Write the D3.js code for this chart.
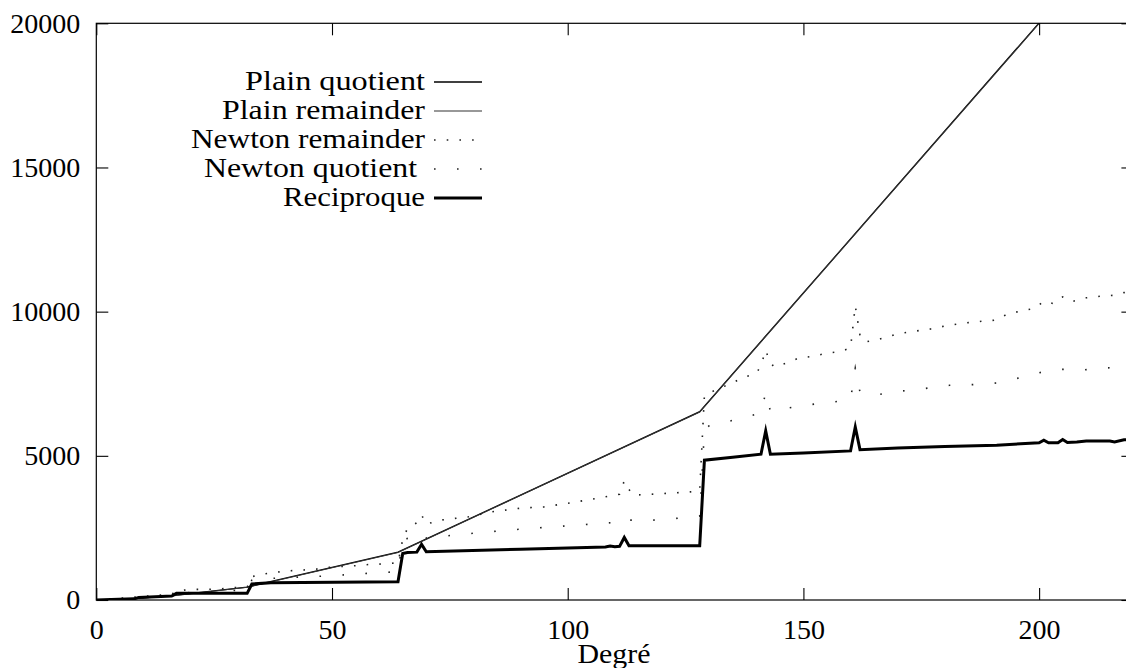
<!DOCTYPE html>
<html><head><meta charset="utf-8">
<script src="https://cdn.jsdelivr.net/npm/d3@7"></script>
<style>
body{margin:0;background:#fff;overflow:hidden}
</style></head><body>
<svg id="chart" width="1126" height="668"></svg>
<script>
// ---------- data ----------
const xTicks = [0, 50, 100, 150, 200];
const yTicks = [0, 5000, 10000, 15000, 20000];
const xLabel = "Degré";
const legendLabels = ["Plain quotient", "Plain remainder", "Newton remainder", "Newton quotient ", "Reciproque"];

const plainDeg       = [0, 8, 16, 32, 64, 128, 256];
const plainQuotient  = [0, 50, 150, 450, 1660, 6530, 30500];
const plainRemainder = [0, 45, 140, 440, 1650, 6520, 30480];

const newtonRemDeg = [0, 8, 16, 17, 20, 23, 26, 29, 32, 33, 35, 38, 41, 44, 47, 49, 55, 58, 60, 64,
  65, 66, 68, 69, 70, 73, 76, 79, 84, 90, 95, 101, 106, 111, 112, 113, 114, 120, 126, 128,
  129, 132, 135, 137, 140, 141, 142, 143, 144, 147, 149, 152, 155, 158, 160, 161, 162, 163, 166, 169,
  171, 174, 177, 180, 183, 185, 188, 191, 193, 196, 199, 201, 203, 205, 207, 210, 213, 216, 218, 220];
const newtonRemainder = [0, 100, 200, 311, 370, 370, 380, 427, 440, 808, 890, 958, 1015, 1040, 1075, 1130, 1190, 1235, 1245, 1290,
  2100, 2480, 2680, 2950, 2630, 2770, 2830, 2885, 3060, 3185, 3230, 3380, 3520, 3670, 4130, 3830, 3635, 3690, 3750, 3800,
  7100, 7330, 7530, 7710, 7850, 8140, 8660, 8200, 8080, 8250, 8390, 8450, 8560, 8620, 8750, 10200, 9180, 8945, 9040, 9180,
  9260, 9330, 9400, 9500, 9580, 9620, 9670, 9710, 9895, 10020, 10110, 10360, 10280, 10510, 10350, 10480, 10535, 10570, 10660, 10700];

const newtonQuoDeg = [0, 8, 16, 17, 21, 26, 31, 32, 33, 34, 40, 45, 50, 55, 60, 64,
  65, 68, 69, 70, 77, 87, 97, 107, 111, 112, 113, 118, 123, 128,
  129, 130, 135, 140, 141, 142, 143, 149, 154, 159, 160, 161, 162, 166,
  171, 176, 181, 186, 191, 196, 201, 205, 209, 214, 220];
const newtonQuotient = [0, 60, 150, 230, 266, 300, 346, 360, 690, 727, 772, 807, 842, 900, 946, 980,
  2100, 2200, 2330, 2150, 2270, 2420, 2540, 2655, 2700, 2830, 2770, 2770, 2830, 2910,
  5900, 6040, 6230, 6440, 6480, 7200, 6545, 6720, 6830, 6915, 6950, 8040, 7210, 7130,
  7250, 7340, 7445, 7470, 7525, 7710, 7920, 8000, 7975, 8045, 8100];

const recipDeg = [0, 8, 9, 16, 17, 32, 33, 37, 64, 65, 66, 68, 69, 70, 90, 108, 109, 110, 111, 112, 113, 128,
  129, 135, 141, 142, 143, 150, 160, 161, 162, 170, 180, 191, 200, 201, 202, 204, 205, 206, 208, 210, 215, 216, 218, 220];
const reciproque = [0, 40, 90, 140, 230, 230, 554, 600, 634, 1615, 1650, 1660, 1930, 1675, 1760, 1840, 1870, 1850, 1860, 2170, 1880, 1880,
  4850, 4950, 5055, 5865, 5055, 5100, 5170, 6000, 5215, 5275, 5320, 5370, 5450, 5540, 5450, 5450, 5565, 5460, 5480, 5510, 5510, 5480, 5560, 5560];

// ---------- layout ----------
const FONT = '"Liberation Serif", "Times New Roman", serif';
const svg = d3.select("#chart");
const X0 = 96.3, X1 = 1133.4, Y0 = 600, Y1 = 23.3;
const xS = d3.scaleLinear().domain([0, 220]).range([X0, X1]);
const yS = d3.scaleLinear().domain([0, 20000]).range([Y0, Y1]);

svg.append("defs").append("clipPath").attr("id", "clip")
  .append("rect").attr("x", X0).attr("y", Y1).attr("width", X1 - X0).attr("height", Y0 - Y1);

const zip = (xs, ys) => xs.map((d, i) => [d, ys[i]]);
const lineGen = d3.line().x(d => xS(d[0])).y(d => yS(d[1]));

const series = [
  {data: zip(plainDeg, plainQuotient),   w: 1.3, color: "#000", dash: null},
  {data: zip(plainDeg, plainRemainder),  w: 1.1, color: "#333", dash: null},
  {data: zip(newtonRemDeg, newtonRemainder), w: 1.6, color: "#222", dash: "1.6 11.1"},
  {data: zip(newtonQuoDeg, newtonQuotient),  w: 1.6, color: "#222", dash: "1.6 21.4"},
  {data: zip(recipDeg, reciproque),      w: 3, color: "#000", dash: null}
];

const plotG = svg.append("g").attr("clip-path", "url(#clip)");
series.forEach(s => {
  plotG.append("path").datum(s.data)
    .attr("d", lineGen)
    .attr("fill", "none")
    .attr("stroke", s.color)
    .attr("stroke-width", s.w)
    .attr("stroke-linejoin", "miter")
    .attr("stroke-miterlimit", 10)
    .attr("stroke-dasharray", s.dash);
});

// ---------- axes ----------
const fs = 28;
const axBottom = svg.append("g").attr("transform", `translate(0,${Y0})`)
  .call(d3.axisBottom(xS).tickValues(xTicks).tickSizeInner(-12).tickSizeOuter(0).tickPadding(19).tickFormat(d3.format("d")));
const axLeft = svg.append("g").attr("transform", `translate(${X0},0)`)
  .call(d3.axisLeft(yS).tickValues(yTicks).tickSizeInner(-12).tickSizeOuter(0).tickPadding(16).tickFormat(d3.format("d")));
const axTop = svg.append("g").attr("transform", `translate(0,${Y1})`)
  .call(d3.axisTop(xS).tickValues(xTicks).tickSizeInner(-12).tickSizeOuter(0).tickFormat(""));
const axRight = svg.append("g").attr("transform", `translate(${X1},0)`)
  .call(d3.axisRight(yS).tickValues(yTicks).tickSizeInner(-12).tickSizeOuter(0).tickFormat(""));

[axBottom, axLeft, axTop, axRight].forEach(g => {
  g.attr("font-family", null).attr("font-size", null);
  g.select(".domain").remove();
  g.selectAll(".tick line").attr("stroke", "#000").attr("stroke-width", 1.1);
  g.selectAll("text").style("font-family", FONT).style("font-size", fs + "px").style("fill", "#000");
});

// frame
svg.append("rect").attr("x", X0).attr("y", Y1).attr("width", X1 - X0).attr("height", Y0 - Y1)
  .attr("fill", "none").attr("stroke", "#000").attr("stroke-width", 1.2);

// x label
svg.append("text").attr("x", 614).attr("y", 663).attr("text-anchor", "middle")
  .style("font-family", FONT).style("font-size", fs + "px")
  .attr("textLength", 73).attr("lengthAdjust", "spacingAndGlyphs").text(xLabel);

// ---------- legend ----------
const legendWidths = [180, 203, 234, 221, 142];
const legendG = svg.append("g");
legendLabels.forEach((lab, i) => {
  const ly = 82 + i * 29;
  legendG.append("text")
    .attr("x", 425).attr("y", ly).attr("dy", "0.3em")
    .attr("text-anchor", "end")
    .style("font-family", FONT).style("font-size", fs + "px")
    .attr("textLength", legendWidths[i]).attr("lengthAdjust", "spacingAndGlyphs")
    .style("white-space", "pre")
    .text(lab);
  const s = series[i];
  legendG.append("line")
    .attr("x1", 434).attr("x2", 482).attr("y1", ly).attr("y2", ly)
    .attr("stroke", s.color).attr("stroke-width", s.w)
    .attr("stroke-dasharray", s.dash);
});
</script>
</body></html>
